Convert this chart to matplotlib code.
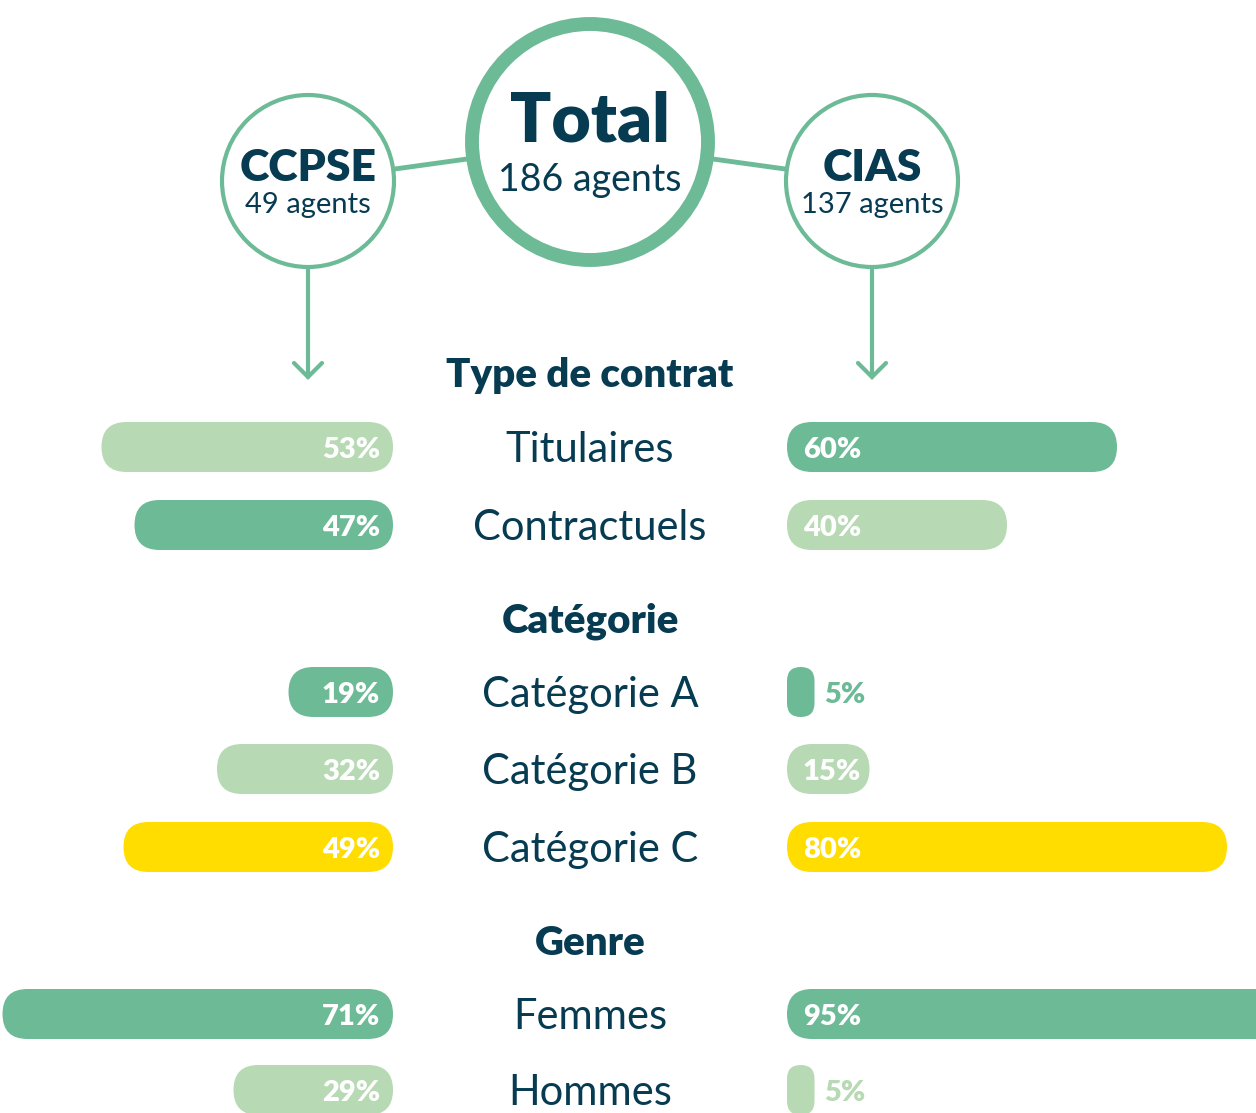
import matplotlib.pyplot as plt
from matplotlib.patches import FancyBboxPatch, Circle

plt.rcParams['font.family'] = ['Lato', 'DejaVu Sans']

# données
rows = ['Titulaires', 'Contractuels', 'Catégorie A', 'Catégorie B', 'Catégorie C', 'Femmes', 'Hommes']
ccpse_pct = [53, 47, 19, 32, 49, 71, 29]
cias_pct = [60, 40, 5, 15, 80, 95, 5]
ccpse_colors = ['light', 'green', 'green', 'light', 'yellow', 'green', 'light']
cias_colors = ['green', 'light', 'green', 'light', 'yellow', 'green', 'light']
sections = ['Type de contrat', 'Catégorie', 'Genre']
total_agents = 186
ccpse_agents = 49
cias_agents = 137

NAVY = '#063b52'
COLS = {'green': '#6dba97', 'light': '#b7d9b3', 'yellow': '#ffdd00'}

W, H = 1256, 1113
fig = plt.figure(figsize=(W / 100, H / 100), dpi=100)
ax = fig.add_axes([0, 0, 1, 1])
ax.set_xlim(0, W)
ax.set_ylim(H, 0)
ax.axis('off')

cx = 590
row_y = [447, 525, 692, 769, 847, 1014, 1090]
sec_y = [387, 632, 955]
left_end, right_start = 393, 787
bar_h = 50
scale = 5.5  # px par %

# cercles du haut
ax.plot([308, 590, 872], [181, 142, 181], color=COLS['green'], lw=3.5, zorder=1)
ax.add_patch(Circle((590, 142), 118, facecolor='white', edgecolor=COLS['green'], lw=10, zorder=2))
for x0 in (308, 872):
    ax.add_patch(Circle((x0, 181), 86, facecolor='white', edgecolor=COLS['green'], lw=3, zorder=2))
    ax.plot([x0, x0], [267, 377], color=COLS['green'], lw=3, zorder=1, solid_capstyle='round')
    ax.plot([x0 - 14, x0, x0 + 14], [363, 377, 363], color=COLS['green'], lw=3,
            solid_capstyle='round', solid_joinstyle='miter', zorder=1)

ax.text(590, 142, 'Total', ha='center', va='baseline', fontsize=49, fontweight='heavy', color=NAVY, zorder=3)
ax.text(590, 191, f'{total_agents} agents', ha='center', va='baseline', fontsize=27, color=NAVY, zorder=3)
ax.text(308, 181, 'CCPSE', ha='center', va='baseline', fontsize=32, fontweight='heavy', color=NAVY, zorder=3)
ax.text(308, 213, f'{ccpse_agents} agents', ha='center', va='baseline', fontsize=21, color=NAVY, zorder=3)
ax.text(872, 181, 'CIAS', ha='center', va='baseline', fontsize=32, fontweight='heavy', color=NAVY, zorder=3)
ax.text(872, 213, f'{cias_agents} agents', ha='center', va='baseline', fontsize=21, color=NAVY, zorder=3)

for s, y in zip(sections, sec_y):
    ax.text(cx, y, s, ha='center', va='baseline', fontsize=29, fontweight='heavy', color=NAVY)


def bar(x0, w, y, color):
    r = min(bar_h, w) / 2
    ax.add_patch(FancyBboxPatch((x0, y - bar_h / 2), w, bar_h,
                                boxstyle=f'round,pad=0,rounding_size={r}',
                                facecolor=color, edgecolor='none'))


for i, (lab, y) in enumerate(zip(rows, row_y)):
    ax.text(cx, y + 15, lab, ha='center', va='baseline', fontsize=30, color=NAVY)
    # gauche (CCPSE)
    pl = ccpse_pct[i]
    wl = pl * scale
    bar(left_end - wl, wl, y, COLS[ccpse_colors[i]])
    ax.text(left_end - 13, y + 11, f'{pl}%', ha='right', va='baseline', fontsize=21,
            fontweight='heavy', color='white')
    # droite (CIAS)
    pr = cias_pct[i]
    col = COLS[cias_colors[i]]
    wr = pr * scale
    bar(right_start, wr, y, col)
    if wr > 70:
        ax.text(right_start + 16, y + 11, f'{pr}%', ha='left', va='baseline', fontsize=21,
                fontweight='heavy', color='white')
    else:
        ax.text(right_start + wr + 10, y + 11, f'{pr}%', ha='left', va='baseline', fontsize=21,
                fontweight='heavy', color=col)

fig.savefig('out.png', dpi=100)
